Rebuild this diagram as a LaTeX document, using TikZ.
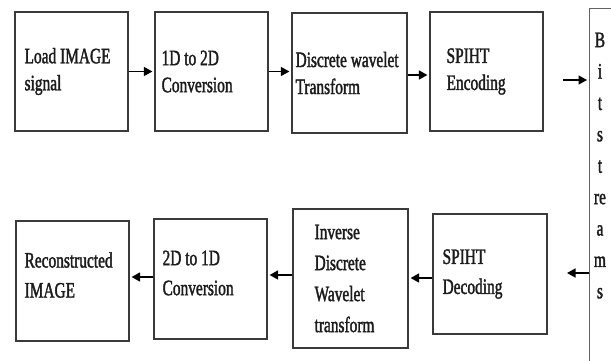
\documentclass[tikz,border=0pt]{standalone}
\usepackage{fontspec}
\setmainfont[FakeStretch=0.7,FakeBold=1.6]{Liberation Serif}
\usetikzlibrary{arrows.meta,calc}
\definecolor{boxc}{HTML}{3A3A3A}
\definecolor{txtc}{HTML}{1C1C1C}
\begin{document}
\begin{tikzpicture}[x=1pt,y=-1pt]
\tikzset{
  box/.style={draw=boxc,line width=1.2pt,inner sep=0pt,rectangle},
  lbl/.style={align=left,inner sep=0pt,text=txtc,anchor=west},
  toprow/.style={font=\fontsize{22}{27}\selectfont},
  botrow/.style={font=\fontsize{22}{30}\selectfont},
  arr/.style={draw=black,line width=1.5pt,-{Triangle[length=8.5pt,width=9pt]},shorten >=2pt},
}
\useasboundingbox (0,0) rectangle (611,360);
\fill[white] (0,0) rectangle (611,360);
\clip (0,0) rectangle (611,360);

% top row
\node[box,minimum width=113pt,minimum height=119pt] (b1) at (71.5,71.5) {};
\node[box,minimum width=113pt,minimum height=119pt] (b2) at (211.5,71.5) {};
\node[box,minimum width=115pt,minimum height=120pt] (b3) at (349.5,73) {};
\node[box,minimum width=113pt,minimum height=119pt] (b4) at (486.5,71.5) {};
\node[lbl,toprow] (t1) at ([xshift=10pt]b1.west) {Load IMAGE\\signal};
\node[lbl,toprow] (t2) at ([xshift=7pt]b2.west) {1D to 2D\\Conversion};
\node[lbl,toprow] (t3) at ([xshift=4pt]b3.west) {Discrete wavelet\\Transform};
\node[lbl,toprow] (t4) at ([xshift=17pt]b4.west) {SPIHT\\Encoding};

% bitstream box
\node[box,draw=boxc!80,minimum width=60pt,minimum height=380pt,anchor=north west] (bs) at (589,8) {};
\node[align=center,inner sep=0pt,anchor=north,text=txtc,font=\fontsize{22}{31.4}\selectfont] (bst) at (600,32.5) {B\\i\\t\\s\\t\\re\\a\\m\\s};

% bottom row
\node[box,minimum width=113pt,minimum height=120pt] (c1) at (72.5,281) {};
\node[box,minimum width=113pt,minimum height=120pt] (c2) at (210.5,279) {};
\node[box,minimum width=115pt,minimum height=139pt] (c3) at (350.5,278.5) {};
\node[box,minimum width=114pt,minimum height=120pt] (c4) at (490,274) {};
\node[lbl,botrow] (u1) at ([xshift=9pt,yshift=6pt]c1.west) {Reconstructed\\IMAGE};
\node[lbl,botrow] (u2) at ([xshift=9pt,yshift=6pt]c2.west) {2D to 1D\\Conversion};
\node[lbl,font=\fontsize{22}{31}\selectfont] (u3) at ([xshift=22pt]c3.west) {Inverse\\Discrete\\Wavelet\\transform};
\node[lbl,botrow] (u4) at ([xshift=10pt]c4.west) {SPIHT\\Decoding};

% top arrows
\draw[arr] (b1.east) -- (b1.east -| b2.west);
\draw[arr] (b2.east) -- (b2.east -| b3.west);
\draw[arr] ([yshift=-2pt]b3.east) -- ([yshift=-2pt]b3.east -| b4.west);
\coordinate (s1) at (563,80);
\draw[arr] (s1) -- (s1 -| bs.west);

% bottom arrows
\coordinate (s2) at (565,273);
\draw[arr] (s2 -| bs.west) -- (s2);
\coordinate (s3) at ([yshift=-4pt]c4.west);
\draw[arr] (s3) -- (s3 -| c3.east);
\coordinate (s4) at ([yshift=3.5pt]c3.west);
\draw[arr] (s4) -- (s4 -| c2.east);
\coordinate (s5) at ([yshift=2pt]c2.west);
\draw[arr] (s5) -- (s5 -| c1.east);
\end{tikzpicture}
\end{document}
